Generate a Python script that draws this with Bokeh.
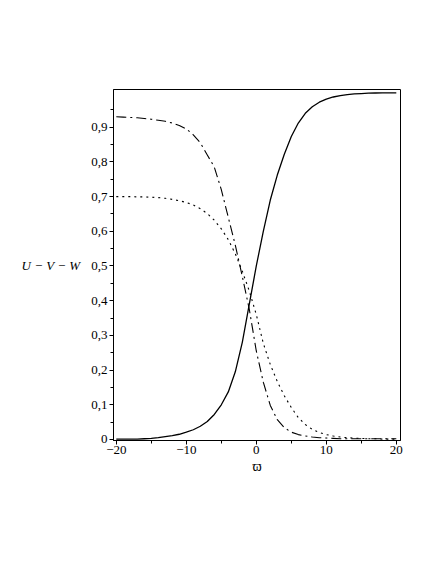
from bokeh.plotting import figure
from bokeh.models import Range1d, FixedTicker, CustomJSTickFormatter, ColumnDataSource
from bokeh.embed import file_html
from bokeh.resources import INLINE

# ---- data ----
varpi = [-20, -19, -18, -17, -16, -15, -14, -13, -12, -11, -10, -9, -8, -7, -6, -5, -4, -3, -2, -1,
         0, 1, 2, 3, 4, 5, 6, 7, 8, 9, 10, 11, 12, 13, 14, 15, 16, 17, 18, 19, 20]
U_solid = [0.001, 0.001, 0.001, 0.001, 0.002, 0.003, 0.005, 0.008, 0.011, 0.015, 0.021, 0.028, 0.038,
           0.052, 0.072, 0.100, 0.137, 0.195, 0.280, 0.390, 0.500, 0.600, 0.690, 0.762, 0.822, 0.873,
           0.912, 0.940, 0.959, 0.972, 0.981, 0.987, 0.991, 0.994, 0.996, 0.997, 0.998, 0.9985, 0.999,
           0.999, 0.999]
V_dashdot = [0.930, 0.929, 0.928, 0.927, 0.925, 0.923, 0.920, 0.917, 0.912, 0.905, 0.895, 0.878, 0.855,
             0.820, 0.785, 0.720, 0.640, 0.560, 0.470, 0.375, 0.255, 0.165, 0.098, 0.057, 0.034, 0.021,
             0.014, 0.010, 0.007, 0.005, 0.004, 0.003, 0.002, 0.002, 0.002, 0.002, 0.002, 0.002, 0.002,
             0.002, 0.002]
W_dotted = [0.700, 0.700, 0.700, 0.699, 0.699, 0.698, 0.697, 0.695, 0.692, 0.688, 0.683, 0.676, 0.665,
            0.651, 0.632, 0.607, 0.576, 0.535, 0.485, 0.428, 0.360, 0.277, 0.216, 0.167, 0.126, 0.092,
            0.063, 0.043, 0.029, 0.020, 0.014, 0.010, 0.007, 0.005, 0.004, 0.003, 0.002, 0.002, 0.001,
            0.001, 0.001]

x_ticks = [-20, -10, 0, 10, 20]
x_minor_ticks = [-15, -5, 5, 15]
y_ticks = [0, 0.1, 0.2, 0.3, 0.4, 0.5, 0.6, 0.7, 0.8, 0.9]
y_minor_ticks = [0.05, 0.15, 0.25, 0.35, 0.45, 0.55, 0.65, 0.75, 0.85, 0.95]
x_label = "\u03d6"
y_label = "U \u2212 V \u2212 W"

FONT = "Times New Roman"

p = figure(width=420, height=548, output_backend="svg", toolbar_location=None,
           x_range=Range1d(-20.4, 20.6), y_range=Range1d(-0.003, 1.0086),
           min_border_left=113, min_border_right=20, min_border_top=89, min_border_bottom=108)
p.background_fill_color = "white"
p.border_fill_color = "white"
p.outline_line_color = "black"
p.outline_line_width = 1
p.xgrid.visible = False
p.ygrid.visible = False

src = ColumnDataSource(dict(x=varpi, u=U_solid, v=V_dashdot, w=W_dotted))
p.line("x", "u", source=src, line_color="black", line_width=1.3)
p.line("x", "v", source=src, line_color="black", line_width=1.1, line_dash="10 4 2 4")
p.line("x", "w", source=src, line_color="black", line_width=1.1, line_dash="2 4")

p.xaxis.ticker = FixedTicker(ticks=x_ticks, minor_ticks=x_minor_ticks)
p.yaxis.ticker = FixedTicker(ticks=y_ticks, minor_ticks=y_minor_ticks)
p.yaxis.formatter = CustomJSTickFormatter(code="return tick == 0 ? '0' : tick.toFixed(1).replace('.', ',');")
p.xaxis.formatter = CustomJSTickFormatter(code="return tick < 0 ? '\u2212' + String(-tick) : String(tick);")

for ax in (p.xaxis[0], p.yaxis[0]):
    ax.axis_line_color = "black"
    ax.major_tick_line_color = "black"
    ax.minor_tick_line_color = "black"
    ax.major_tick_in = 0
    ax.major_tick_out = 4
    ax.minor_tick_in = 0
    ax.minor_tick_out = 3
    ax.major_label_text_font = FONT
    ax.major_label_text_font_size = "13px"
    ax.major_label_text_color = "black"
    ax.axis_label_text_color = "black"

p.yaxis.major_label_standoff = 2
p.xaxis.major_label_standoff = 1
p.xaxis.axis_label = x_label
p.xaxis.axis_label_text_font = FONT
p.xaxis.axis_label_text_font_style = "normal"
p.xaxis.axis_label_text_font_size = "14px"
p.xaxis.axis_label_standoff = 2

p.yaxis.axis_label = y_label
p.yaxis.axis_label_orientation = "horizontal"
p.yaxis.axis_label_text_font = FONT
p.yaxis.axis_label_text_font_style = "italic"
p.yaxis.axis_label_text_font_size = "13px"
p.yaxis.axis_label_standoff = 8

open("out.html", "w").write(file_html(p, INLINE))
